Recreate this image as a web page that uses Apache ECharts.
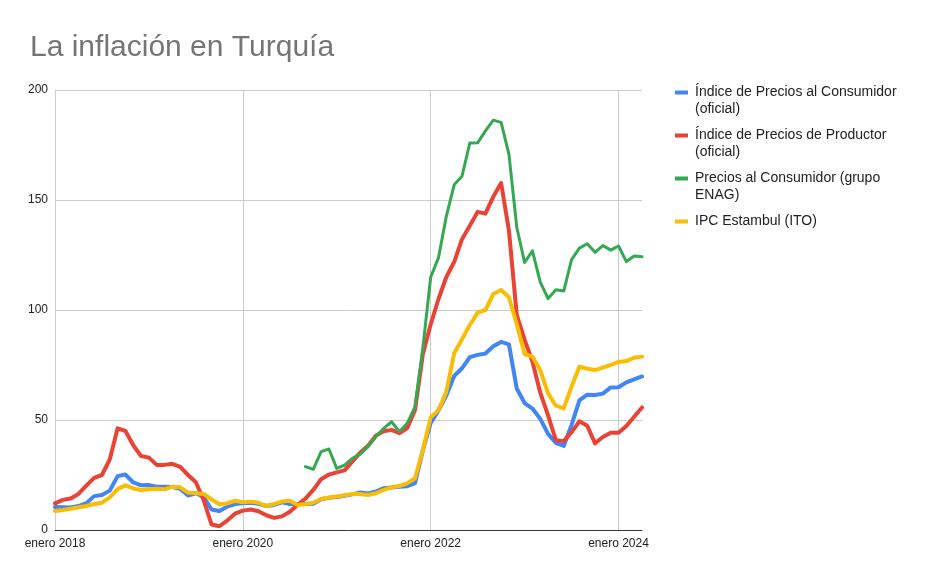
<!DOCTYPE html>
<html>
<head>
<meta charset="utf-8">
<script src="https://cdn.jsdelivr.net/npm/echarts@6/dist/echarts.min.js"></script>
<style>
  html, body { margin: 0; padding: 0; background: #fff; }
  #main { width: 935px; height: 579px; }
</style>
</head>
<body>
<div id="main"></div>
<script>
// meses desde enero 2018 hasta abril 2024
var months = [];
for (var y = 2018; y <= 2024; y++) {
    for (var m = 1; m <= 12; m++) {
        if (y === 2024 && m > 4) break;
        months.push(y + '-' + (m < 10 ? '0' + m : m));
    }
}

var yTicks = [0, 50, 100, 150, 200];

// Índice de Precios al Consumidor (oficial)
var ipcOficial = [
    10.4, 10.3, 10.2, 10.9, 12.2, 15.4, 15.9, 17.9, 24.5, 25.2, 21.6, 20.3,
    20.4, 19.7, 19.7, 19.5, 18.7, 15.7, 16.7, 15.0, 9.3, 8.6, 10.6, 11.8,
    12.2, 12.4, 11.9, 10.9, 11.4, 12.6, 11.8, 11.8, 11.8, 11.9, 14.0, 14.6,
    15.0, 15.6, 16.2, 17.1, 16.6, 17.5, 19.0, 19.3, 19.6, 19.9, 21.3, 36.1,
    48.7, 54.4, 61.1, 70.0, 73.5, 78.6, 79.6, 80.2, 83.5, 85.5, 84.4, 64.3,
    57.7, 55.2, 50.5, 43.7, 39.6, 38.2, 47.8, 58.9, 61.5, 61.4, 62.0, 64.8,
    64.9, 67.1, 68.5, 69.8
];

// Índice de Precios de Productor (oficial)
var ippOficial = [
    12.1, 13.7, 14.3, 16.4, 20.2, 23.7, 25.0, 32.1, 46.2, 45.0, 38.5, 33.6,
    32.9, 29.6, 29.6, 30.1, 28.7, 25.0, 21.7, 13.5, 2.5, 1.7, 4.3, 7.4,
    8.8, 9.3, 8.5, 6.7, 5.5, 6.2, 8.3, 11.5, 14.3, 18.2, 23.1, 25.2,
    26.2, 27.1, 31.2, 35.2, 38.3, 42.9, 44.9, 45.5, 44.0, 46.3, 54.6, 79.9,
    93.5, 105.0, 115.0, 121.8, 132.2, 138.3, 144.6, 143.8, 151.5, 157.7, 136.0, 97.7,
    86.5, 76.6, 62.4, 52.1, 40.8, 40.4, 44.5, 49.4, 47.4, 39.4, 42.3, 44.2,
    44.2, 47.3, 51.5, 55.7
];

// Precios al Consumidor (grupo ENAG), empieza en septiembre 2020
var enag = [
    null, null, null, null, null, null, null, null, null, null, null, null,
    null, null, null, null, null, null, null, null, null, null, null, null,
    null, null, null, null, null, null, null, null, 28.8, 27.6, 35.6, 36.8,
    28.0, 29.5, 32.6, 34.5, 37.9, 42.4, 46.2, 49.2, 44.7, 48.5, 56.0, 82.8,
    114.9, 123.8, 142.6, 156.9, 160.8, 175.9, 176.0, 181.4, 186.3, 185.3, 170.7, 137.6,
    121.6, 126.9, 112.7, 105.2, 109.2, 108.6, 122.9, 128.1, 130.1, 126.2, 129.3, 127.2,
    129.1, 122.0, 124.5, 124.2
];

// IPC Estambul (ITO)
var ipcIto = [
    8.6, 9.1, 9.7, 10.3, 10.9, 11.8, 12.4, 14.8, 18.6, 20.3, 18.9, 18.2,
    18.5, 18.8, 18.5, 19.7, 19.4, 17.0, 16.7, 16.4, 13.9, 11.7, 12.1, 13.3,
    12.6, 12.9, 12.4, 10.9, 11.8, 13.0, 13.3, 11.4, 11.8, 12.4, 14.1, 14.8,
    15.2, 15.8, 16.4, 16.4, 15.9, 16.7, 18.2, 19.4, 20.0, 21.2, 23.5, 36.4,
    51.2, 54.5, 62.9, 80.3, 86.7, 93.2, 98.8, 100.0, 107.3, 109.1, 105.8, 93.5,
    80.0, 78.8, 72.7, 62.1, 56.5, 55.3, 65.2, 74.2, 73.3, 72.7, 73.8, 75.0,
    76.4, 76.8, 78.3, 78.8
];

var names = [
    'Índice de Precios al Consumidor (oficial)',
    'Índice de Precios de Productor (oficial)',
    'Precios al Consumidor (grupo ENAG)',
    'IPC Estambul (ITO)'
];
// texto de la leyenda partido en lineas; la linea vacia de arriba deja el icono a la altura de la primera linea
var legendText = {};
legendText[names[0]] = ' \nÍndice de Precios al Consumidor\n(oficial)';
legendText[names[1]] = ' \nÍndice de Precios de Productor\n(oficial)';
legendText[names[2]] = ' \nPrecios al Consumidor (grupo\nENAG)';
legendText[names[3]] = ' \nIPC Estambul (ITO)\n ';

var colors = ['#4285F4', '#EA4335', '#34A853', '#FBBC04'];
var font = "'Liberation Sans', Arial, sans-serif";

var chart = echarts.init(document.getElementById('main'));

function makeSeries(name, data, color, width) {
    return {
        name: name,
        type: 'line',
        data: data,
        showSymbol: false,
        symbol: 'none',
        connectNulls: false,
        lineStyle: { color: color, width: width, join: 'round', cap: 'round' },
        itemStyle: { color: color },
        emphasis: { disabled: true }
    };
}

chart.setOption({
    backgroundColor: '#FFFFFF',
    animation: false,
    title: {
        text: 'La inflación en Turquía',
        left: 25,
        top: 28,
        textStyle: { fontFamily: font, fontSize: 30, fontWeight: 'normal', color: '#757575' }
    },
    legend: {
        orient: 'vertical',
        left: 675,
        top: 67,
        padding: 0,
        itemGap: -8,
        itemWidth: 13,
        itemHeight: 4,
        icon: 'rect',
        formatter: function (n) { return legendText[n]; },
        textStyle: { fontFamily: font, fontSize: 14, color: '#222', lineHeight: 17, padding: [0, 0, 0, 2] },
        data: names
    },
    grid: { left: 55, right: 293, top: 90, bottom: 49, containLabel: false },
    xAxis: {
        type: 'category',
        data: months,
        boundaryGap: false,
        axisLine: { lineStyle: { color: '#333', width: 1 } },
        axisTick: { show: false },
        axisLabel: {
            interval: function (i) { return i % 24 === 0; },
            formatter: function (v) { return 'enero ' + v.substr(0, 4); },
            fontFamily: font, fontSize: 12, color: '#222', margin: 8
        },
        splitLine: {
            show: true,
            interval: function (i) { return i % 24 === 0; },
            lineStyle: { color: '#cccccc', width: 1 }
        }
    },
    yAxis: {
        type: 'value',
        min: yTicks[0],
        max: yTicks[yTicks.length - 1],
        interval: 50,
        axisLine: { show: false },
        axisTick: { show: false },
        axisLabel: { fontFamily: font, fontSize: 12, color: '#222', margin: 7 },
        splitLine: { lineStyle: { color: '#cccccc', width: 1 } }
    },
    series: [
        makeSeries(names[0], ipcOficial, colors[0], 4),
        makeSeries(names[1], ippOficial, colors[1], 4),
        makeSeries(names[2], enag, colors[2], 3),
        makeSeries(names[3], ipcIto, colors[3], 4)
    ]
});
</script>
</body>
</html>
